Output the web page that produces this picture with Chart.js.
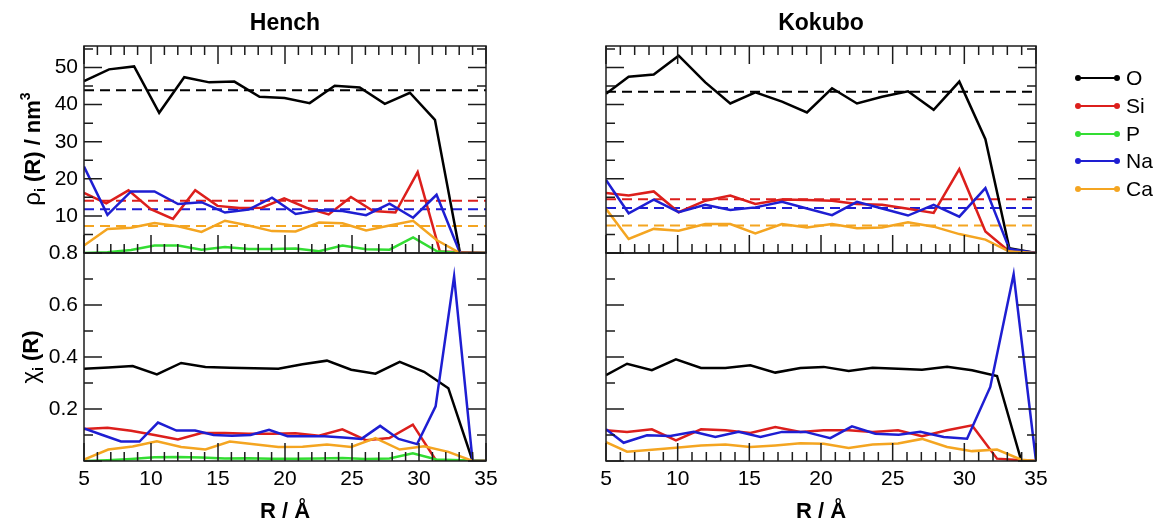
<!DOCTYPE html>
<html>
<head>
<meta charset="utf-8">
<script src="https://cdn.jsdelivr.net/npm/chart.js@4.4.1/dist/chart.umd.min.js"></script>
<style>
  html, body { margin:0; padding:0; background:#fff; width:1158px; height:522px; overflow:hidden;
    font-family:"Liberation Sans", Arial, Helvetica, sans-serif; color:#000; }
  canvas { position:absolute; left:0; top:0; }
  .title { position:absolute; font-weight:bold; font-size:23px; line-height:1; white-space:nowrap;
    transform:translate(-50%,-50%); }
  .ytitle { position:absolute; font-weight:bold; font-size:22px; line-height:1; white-space:nowrap;
    transform:translate(-50%,-50%) rotate(-90deg); }
  .ytitle .gr { font-weight:normal; font-size:24px; }
  .ytitle sub { font-size:14px; vertical-align:-5px; }
  .ytitle sup { font-size:14px; vertical-align:10px; }
  .leg { position:absolute; left:1078px; height:0; }
  .leg .sw { position:absolute; left:0; top:-1px; width:39px; height:2px; }
  .leg .sw::before, .leg .sw::after { content:""; position:absolute; top:-2px; width:6px; height:6px;
    border-radius:50%; background:inherit; }
  .leg .sw::before { left:-3px; } .leg .sw::after { right:-3px; }
  .leg .tx { position:absolute; left:48px; top:-12px; font-size:21px; line-height:24px; white-space:nowrap; }
</style>
</head>
<body>
<canvas id="hTop" width="1158" height="522"></canvas>
<canvas id="hBot" width="1158" height="522"></canvas>
<canvas id="kTop" width="1158" height="522"></canvas>
<canvas id="kBot" width="1158" height="522"></canvas>

<div class="title" style="left:285px; top:22px;">Hench</div>
<div class="title" style="left:821px; top:22px;">Kokubo</div>
<div class="ytitle" style="left:32px; top:149px;"><span class="gr">ρ</span><sub>i</sub> (R) / nm<sup>3</sup></div>
<div class="ytitle" style="left:31px; top:357px;"><span class="gr">χ</span><sub>i</sub> (R)</div>
<div id="legend"></div>

<script>
// ---------------- data ----------------
const species = ['O', 'Si', 'P', 'Na', 'Ca'];
const speciesColor = { O:'#000000', Si:'#dc1f1c', P:'#33dd33', Na:'#1e1ed2', Ca:'#f4a521' };

// Hench, density rho_i(R) / nm^3
const henchR_O      = [5.0, 6.87, 8.74, 10.61, 12.48, 14.35, 16.22, 18.10, 19.97, 21.84, 23.71, 25.58, 27.45, 29.32, 31.19, 33.06, 35.0];
const henchRho_O    = [46.3, 49.5, 50.3, 37.8, 47.4, 46.0, 46.2, 42.1, 41.8, 40.4, 45.1, 44.6, 40.2, 43.2, 35.9, 0, 0];
const henchR_Si     = [5.0, 6.66, 8.32, 9.98, 11.64, 13.30, 14.96, 16.62, 18.28, 19.94, 21.60, 23.26, 24.92, 26.58, 28.24, 29.90, 31.56, 35.0];
const henchRho_Si   = [16.2, 13.4, 16.9, 11.8, 9.2, 16.9, 12.7, 12.1, 12.2, 14.7, 12.2, 10.4, 15.1, 11.3, 10.9, 21.8, 0.4, 0];
const henchR_NaCaP  = [5.0, 6.75, 8.51, 10.26, 12.02, 13.77, 15.52, 17.28, 19.03, 20.79, 22.54, 24.29, 26.05, 27.80, 29.56, 31.31, 33.06, 35.0];
const henchRho_Na   = [23.3, 10.3, 16.6, 16.6, 13.2, 13.7, 10.9, 11.7, 14.9, 10.5, 11.5, 11.3, 10.2, 13.3, 9.5, 15.7, 0, 0];
const henchRho_Ca   = [2.0, 6.5, 6.8, 8.1, 7.2, 5.7, 8.7, 7.4, 5.9, 5.8, 8.2, 8.0, 6.1, 7.4, 8.7, 3.5, 0, 0];
const henchRho_P    = [0, 0.2, 0.8, 2.0, 2.0, 0.9, 1.6, 1.1, 1.1, 1.2, 0.5, 2.0, 1.0, 0.9, 4.2, 0.5, 0, 0];
const henchMeanRho  = { O:43.9, Si:14.1, Na:11.8, Ca:7.3 };

// Hench, fraction chi_i(R)
const henchXR_main  = [5.0, 6.81, 8.63, 10.44, 12.25, 14.06, 15.88, 17.69, 19.50, 21.31, 23.13, 24.94, 26.75, 28.56, 30.38, 32.19, 34.0, 35.0];
const henchChi_O    = [0.355, 0.360, 0.365, 0.333, 0.377, 0.362, 0.359, 0.357, 0.355, 0.372, 0.386, 0.351, 0.336, 0.381, 0.343, 0.280, 0, 0];
const henchChi_Ca   = [0.005, 0.044, 0.056, 0.076, 0.054, 0.044, 0.075, 0.064, 0.054, 0.055, 0.063, 0.054, 0.088, 0.044, 0.057, 0.035, 0, 0];
const henchXR_SiP   = [5.0, 6.75, 8.51, 10.26, 12.01, 13.77, 15.52, 17.27, 19.02, 20.78, 22.53, 24.28, 26.04, 27.79, 29.54, 31.30, 35.0];
const henchChi_Si   = [0.123, 0.128, 0.116, 0.100, 0.083, 0.108, 0.108, 0.105, 0.105, 0.107, 0.097, 0.122, 0.080, 0.088, 0.140, 0, 0];
const henchChi_P    = [0, 0.003, 0.008, 0.014, 0.015, 0.013, 0.010, 0.011, 0.009, 0.009, 0.010, 0.012, 0.008, 0.010, 0.030, 0.006, 0];
const henchXR_Na    = [5.0, 6.38, 7.76, 9.14, 10.52, 11.90, 13.29, 14.67, 16.05, 17.43, 18.81, 20.19, 21.57, 22.95, 24.33, 25.71, 27.10, 28.48, 29.86, 31.24, 32.62, 34.0, 35.0];
const henchChi_Na   = [0.125, 0.100, 0.075, 0.075, 0.148, 0.117, 0.117, 0.100, 0.097, 0.100, 0.120, 0.095, 0.095, 0.095, 0.090, 0.085, 0.135, 0.085, 0.065, 0.210, 0.710, 0, 0];

// Kokubo, density rho_i(R) / nm^3
const kokR          = [5.0, 6.58, 8.33, 10.07, 11.93, 13.67, 15.42, 17.28, 19.02, 20.77, 22.51, 24.26, 26.07, 27.86, 29.65, 31.47, 33.14, 35.0];
const kokRho_O      = [42.9, 47.5, 48.1, 53.2, 46.0, 40.3, 43.3, 40.8, 37.9, 44.4, 40.3, 42.1, 43.6, 38.6, 46.2, 30.7, 1.3, 0];
const kokRho_Si     = [16.2, 15.5, 16.6, 11.0, 14.1, 15.5, 13.2, 14.4, 14.3, 14.1, 13.2, 13.0, 11.9, 10.8, 22.6, 5.8, 0.4, 0];
const kokRho_Na     = [19.7, 10.7, 14.4, 11.0, 13.0, 11.6, 12.3, 13.8, 12.0, 10.2, 13.8, 12.0, 10.1, 13.0, 9.8, 17.5, 1.1, 0];
const kokRho_Ca     = [11.9, 3.8, 6.5, 6.0, 7.8, 7.8, 5.3, 7.8, 6.9, 7.8, 6.7, 6.9, 8.3, 7.1, 5.1, 3.6, 0.4, 0];
const kokMeanRho    = { O:43.5, Si:14.5, Na:12.1, Ca:7.4 };

// Kokubo, fraction chi_i(R)
const kokXR         = [5.0, 6.47, 8.20, 9.88, 11.63, 13.33, 15.07, 16.81, 18.56, 20.19, 21.93, 23.60, 25.37, 27.05, 28.80, 30.54, 32.28, 33.98, 35.0];
const kokChi_O      = [0.330, 0.374, 0.349, 0.391, 0.358, 0.358, 0.368, 0.340, 0.358, 0.362, 0.346, 0.359, 0.355, 0.351, 0.362, 0.349, 0.327, 0, 0];
const kokChi_Si     = [0.118, 0.112, 0.122, 0.079, 0.122, 0.118, 0.108, 0.131, 0.112, 0.118, 0.118, 0.112, 0.118, 0.095, 0.118, 0.137, 0.009, 0.003, 0];
const kokChi_Ca     = [0.073, 0.036, 0.043, 0.051, 0.060, 0.063, 0.054, 0.060, 0.068, 0.066, 0.050, 0.063, 0.067, 0.085, 0.054, 0.038, 0.044, 0.005, 0];
const kokXR_Na      = [5.0, 6.23, 7.86, 9.49, 11.12, 12.63, 14.26, 15.77, 17.28, 18.91, 20.65, 22.16, 23.79, 25.42, 26.93, 28.56, 30.19, 31.81, 33.44, 35.0];
const kokChi_Na     = [0.122, 0.070, 0.099, 0.096, 0.112, 0.092, 0.112, 0.092, 0.112, 0.112, 0.088, 0.133, 0.105, 0.101, 0.112, 0.092, 0.086, 0.285, 0.718, 0];

// axis ranges / ticks
const R_MIN = 5, R_MAX = 35, R_STEP = 5;
const RHO_MAX = 55.8, RHO_STEP = 10;
const CHI_MAX = 0.8, CHI_STEP = 0.2;

// ---------------- helpers ----------------
const W = 1158, H = 522;
const FONT = '"Liberation Sans", Arial, sans-serif';

function line(xs, ys, sp) {
  return { label: sp, data: xs.map((x, i) => ({ x, y: ys[i] })), borderColor: speciesColor[sp],
    backgroundColor: speciesColor[sp], borderWidth: 2.5, showLine: true, pointRadius: 0, fill: false,
    tension: 0, borderJoinStyle: 'miter' };
}
function meanLine(v, sp) {
  return { label: sp + ' mean', data: [{ x: R_MIN, y: v }, { x: R_MAX, y: v }], borderColor: speciesColor[sp],
    borderWidth: 2, borderDash: [10, 6], showLine: true, pointRadius: 0, fill: false };
}

const frame = {
  id: 'frame',
  afterDatasetsDraw(chart, args, o) {
    const { ctx, chartArea: a, scales: { x, y } } = chart;
    ctx.save();
    ctx.strokeStyle = '#1c1c1c';
    ctx.lineWidth = 1.5;
    ctx.strokeRect(a.left, a.top, a.right - a.left, a.bottom - a.top);
    ctx.beginPath();
    const nx = Math.round((x.max - x.min) / o.xMinor);
    for (let k = 0; k <= nx; k++) {
      const v = x.min + k * o.xMinor;
      const px = x.getPixelForValue(v);
      const r = v / o.xMajor;
      const len = Math.abs(r - Math.round(r)) < 1e-6 ? o.major : o.minor;
      if (o.bottom) { ctx.moveTo(px, a.bottom); ctx.lineTo(px, a.bottom - len); }
      if (o.top) { ctx.moveTo(px, a.top); ctx.lineTo(px, a.top + len); }
    }
    const ny = Math.floor((y.max - y.min) / o.yMinor + 1e-6);
    for (let k = 0; k <= ny; k++) {
      const v = y.min + k * o.yMinor;
      const py = y.getPixelForValue(v);
      const r = v / o.yMajor;
      const len = Math.abs(r - Math.round(r)) < 1e-6 ? o.major : o.minor;
      if (o.left) { ctx.moveTo(a.left, py); ctx.lineTo(a.left + len, py); }
      if (o.right) { ctx.moveTo(a.right, py); ctx.lineTo(a.right - len, py); }
    }
    ctx.stroke();
    ctx.restore();
  }
};

function panel(id, area, datasets, cfg) {
  const yLabels = cfg.yLabels, xLabels = cfg.xLabels;
  return new Chart(document.getElementById(id), {
    type: 'scatter',
    data: { datasets },
    options: {
      responsive: false, animation: false, devicePixelRatio: 1,
      layout: { padding: {
        left: yLabels ? 0 : area.left,
        right: W - area.right,
        top: area.top,
        bottom: xLabels ? 0 : H - area.bottom } },
      plugins: { legend: { display: false }, tooltip: { enabled: false }, title: { display: false },
        frame: { top: cfg.topTicks, bottom: true, left: true, right: true,
          xMinor: 1, xMajor: 5, yMinor: cfg.yMinor, yMajor: cfg.yMajor, major: 18, minor: 9 } },
      scales: {
        x: {
          type: 'linear', min: R_MIN, max: R_MAX, display: xLabels,
          grid: { display: false, drawTicks: false }, border: { display: false },
          ticks: { stepSize: R_STEP, includeBounds: false, padding: 6, color: '#000',
            font: { family: FONT, size: 21 } },
          title: { display: xLabels, text: 'R / Å', color: '#000', padding: { top: 0, bottom: 0 },
            font: { family: FONT, size: 22, weight: 'bold', lineHeight: '20px' } },
          afterFit: s => { if (xLabels) s.height = H - area.bottom; }
        },
        y: {
          type: 'linear', min: 0, max: cfg.yMax, display: yLabels,
          grid: { display: false, drawTicks: false }, border: { display: false },
          ticks: { stepSize: cfg.yStep, includeBounds: false, padding: 6, color: '#000',
            font: { family: FONT, size: 21 },
            callback: v => (Math.abs(v) < 1e-9 ? '' : (cfg.yStep < 1 ? v.toFixed(1) : String(v))) },
          afterFit: s => { if (yLabels) s.width = area.left; }
        }
      }
    },
    plugins: [frame]
  });
}

// ---------------- panels ----------------
const HENCH = { left: 84, right: 486 }, KOKUBO = { left: 606, right: 1036 };
const TOP = { top: 46, bottom: 253 }, BOT = { top: 253, bottom: 461 };

panel('hTop', { ...HENCH, ...TOP }, [
  line(henchR_NaCaP, henchRho_Ca, 'Ca'),
  line(henchR_NaCaP, henchRho_Na, 'Na'),
  line(henchR_NaCaP, henchRho_P, 'P'),
  line(henchR_Si, henchRho_Si, 'Si'),
  line(henchR_O, henchRho_O, 'O'),
  meanLine(henchMeanRho.Ca, 'Ca'), meanLine(henchMeanRho.Na, 'Na'),
  meanLine(henchMeanRho.Si, 'Si'), meanLine(henchMeanRho.O, 'O')
], { yLabels: true, xLabels: false, topTicks: true, yMax: RHO_MAX, yStep: RHO_STEP, yMinor: 5, yMajor: 10 });

panel('hBot', { ...HENCH, ...BOT }, [
  line(henchXR_main, henchChi_Ca, 'Ca'),
  line(henchXR_Na, henchChi_Na, 'Na'),
  line(henchXR_SiP, henchChi_P, 'P'),
  line(henchXR_SiP, henchChi_Si, 'Si'),
  line(henchXR_main, henchChi_O, 'O')
], { yLabels: true, xLabels: true, topTicks: false, yMax: CHI_MAX, yStep: CHI_STEP, yMinor: 0.1, yMajor: 0.2 });

panel('kTop', { ...KOKUBO, ...TOP }, [
  line(kokR, kokRho_Ca, 'Ca'),
  line(kokR, kokRho_Na, 'Na'),
  line(kokR, kokRho_Si, 'Si'),
  line(kokR, kokRho_O, 'O'),
  meanLine(kokMeanRho.Ca, 'Ca'), meanLine(kokMeanRho.Na, 'Na'),
  meanLine(kokMeanRho.Si, 'Si'), meanLine(kokMeanRho.O, 'O')
], { yLabels: false, xLabels: false, topTicks: true, yMax: RHO_MAX, yStep: RHO_STEP, yMinor: 5, yMajor: 10 });

panel('kBot', { ...KOKUBO, ...BOT }, [
  line(kokXR, kokChi_Ca, 'Ca'),
  line(kokXR_Na, kokChi_Na, 'Na'),
  line(kokXR, kokChi_Si, 'Si'),
  line(kokXR, kokChi_O, 'O')
], { yLabels: false, xLabels: true, topTicks: false, yMax: CHI_MAX, yStep: CHI_STEP, yMinor: 0.1, yMajor: 0.2 });

// ---------------- legend ----------------
const legend = document.getElementById('legend');
species.forEach((sp, i) => {
  const row = document.createElement('div');
  row.className = 'leg';
  row.style.top = (78 + i * 27.8) + 'px';
  row.innerHTML = '<div class="sw" style="background:' + speciesColor[sp] + '"></div><div class="tx">' + sp + '</div>';
  legend.appendChild(row);
});
</script>
</body>
</html>
